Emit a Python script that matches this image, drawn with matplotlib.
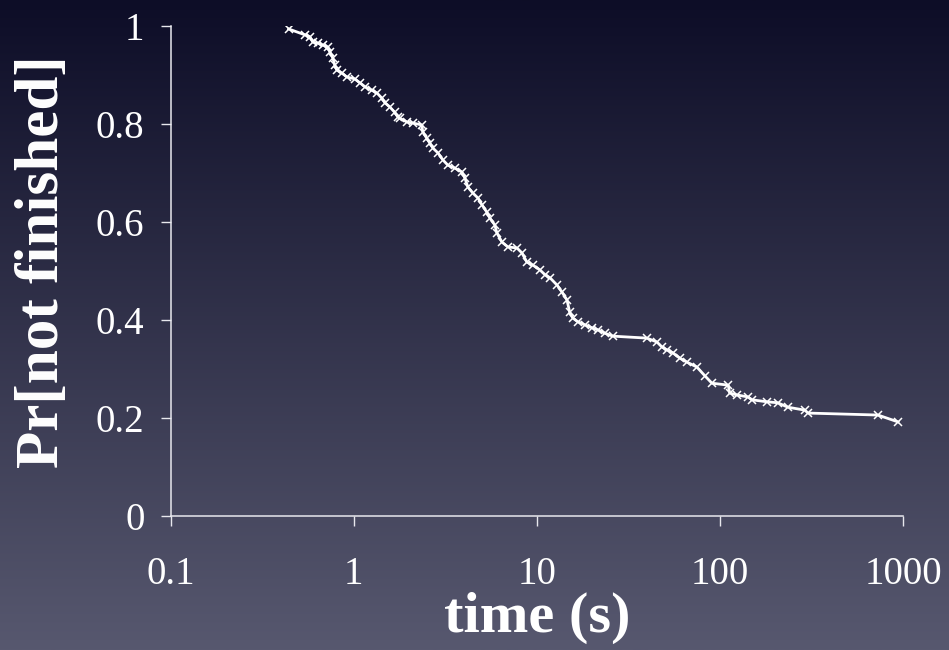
import numpy as np
import matplotlib
matplotlib.use("Agg")
import matplotlib.pyplot as plt
from matplotlib.colors import LinearSegmentedColormap

# survival curve (time in s, fraction not finished)
t_sec = [0.44, 0.54, 0.575, 0.597, 0.635, 0.678, 0.721, 0.74, 0.767, 0.787,
         0.807, 0.859, 0.916, 1.01, 1.08, 1.15, 1.25, 1.34, 1.42, 1.48,
         1.57, 1.67, 1.74, 1.78, 1.95, 2.10, 2.35, 2.38, 2.50, 2.60,
         2.70, 2.88, 3.06, 3.26, 3.56, 3.89, 4.04, 4.20, 4.47, 4.76,
         5.01, 5.33, 5.53, 5.89, 6.04, 6.44, 6.95, 7.78, 8.28, 8.82,
         9.51, 10.4, 11.1, 11.8, 12.9, 13.7, 14.6, 15.1, 15.7, 16.8,
         18.3, 20.0, 21.5, 23.5, 26.0, 39.9, 45.3, 48.2, 51.3, 55.3,
         60.4, 66.0, 74.8, 82.8, 90.4, 111, 113, 124, 142, 150,
         181, 207, 235, 291, 303, 730, 939]
p_left = [0.994, 0.982, 0.978, 0.967, 0.965, 0.961, 0.957, 0.947, 0.935, 0.920,
          0.910, 0.904, 0.896, 0.892, 0.884, 0.876, 0.869, 0.863, 0.853, 0.843,
          0.835, 0.824, 0.814, 0.812, 0.804, 0.802, 0.798, 0.784, 0.771, 0.761,
          0.751, 0.741, 0.727, 0.716, 0.710, 0.702, 0.690, 0.671, 0.659, 0.649,
          0.635, 0.620, 0.608, 0.594, 0.578, 0.559, 0.549, 0.547, 0.537, 0.518,
          0.512, 0.502, 0.492, 0.486, 0.471, 0.457, 0.441, 0.416, 0.404, 0.396,
          0.390, 0.384, 0.380, 0.373, 0.367, 0.363, 0.355, 0.345, 0.339, 0.333,
          0.322, 0.314, 0.304, 0.286, 0.271, 0.267, 0.251, 0.247, 0.243, 0.237,
          0.233, 0.231, 0.222, 0.216, 0.210, 0.206, 0.192]

xticks = [0.1, 1, 10, 100, 1000]
xlabels = ["0.1", "1", "10", "100", "1000"]
yticks = [0, 0.2, 0.4, 0.6, 0.8, 1]
ylabels = ["0", "0.2", "0.4", "0.6", "0.8", "1"]

fg = "#e8e8ee"
plt.rcParams['font.family'] = ['Liberation Serif', 'DejaVu Serif']

fig = plt.figure(figsize=(9.49, 6.5), dpi=100)

# background gradient
bg = fig.add_axes([0, 0, 1, 1], zorder=-10)
cmap = LinearSegmentedColormap.from_list("bg", ["#0d0d27", "#57586f"])
grad = np.linspace(0, 1, 256).reshape(-1, 1)
bg.imshow(grad, aspect="auto", cmap=cmap, extent=[0, 1, 0, 1], origin="upper")
bg.axis("off")

ax = fig.add_axes([0.180, 0.2062, 0.7715, 0.7538])
ax.patch.set_alpha(0)

ax.plot(t_sec, p_left, color="white", lw=2.0, marker="x", ms=5.5, mew=1.1)

ax.set_xscale("log")
ax.set_xlim(0.1, 1000)
ax.set_ylim(0, 1)
ax.set_xticks(xticks)
ax.set_xticklabels(xlabels)
ax.set_yticks(yticks)
ax.set_yticklabels(ylabels)
ax.minorticks_off()

for s in ["top", "right"]:
    ax.spines[s].set_visible(False)
for s in ["left", "bottom"]:
    ax.spines[s].set_color(fg)
    ax.spines[s].set_linewidth(1.1)

ax.tick_params(axis="both", colors=fg, length=7, width=1.0, labelsize=28)
ax.tick_params(axis="x", pad=22)
ax.tick_params(axis="y", pad=12)
for lab in ax.get_xticklabels() + ax.get_yticklabels():
    lab.set_color("white")

ax.set_xlabel("time (s)", fontsize=42, fontweight="bold", color="white")
ax.set_ylabel("Pr[not finished]", fontsize=44, fontweight="bold", color="white")
ax.xaxis.set_label_coords(0.5, -0.155)
ax.yaxis.set_label_coords(-0.137, 0.518)

fig.savefig("out.png", dpi=100)
